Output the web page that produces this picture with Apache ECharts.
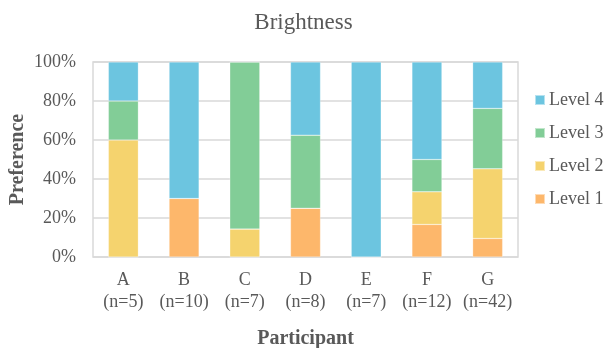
<!DOCTYPE html>
<html>
<head>
<meta charset="utf-8">
<script src="https://cdn.jsdelivr.net/npm/echarts@6/dist/echarts.min.js"></script>
<style>
  html, body { margin: 0; padding: 0; background: #fff; }
  #chart { width: 607px; height: 348px; }
</style>
</head>
<body>
<div id="chart"></div>
<script>
// Participants and their sample sizes
const participants = ['A', 'B', 'C', 'D', 'E', 'F', 'G'];
const sampleSizes = [5, 10, 7, 8, 7, 12, 42];

// Share of each brightness level per participant (%)
const level1 = [0, 30, 0, 25, 0, 16.7, 9.5];
const level2 = [60, 0, 14.3, 0, 0, 16.7, 35.7];
const level3 = [20, 0, 85.7, 37.5, 0, 16.6, 31.0];
const level4 = [20, 70, 0, 37.5, 100, 50, 23.8];

const yTicks = [0, 20, 40, 60, 80, 100];

const FONT = '"Liberation Serif", "Times New Roman", serif';
const TEXT = '#595959';
const GRID = '#d9d9d9';

const colors = {
  'Level 1': '#fdb76b',
  'Level 2': '#f5d36e',
  'Level 3': '#82cd97',
  'Level 4': '#6cc5e0'
};

const seriesData = [
  ['Level 1', level1],
  ['Level 2', level2],
  ['Level 3', level3],
  ['Level 4', level4]
];

const chart = echarts.init(document.getElementById('chart'), null, { renderer: 'canvas' });

chart.setOption({
  animation: false,
  textStyle: { fontFamily: FONT, color: TEXT },
  title: {
    text: 'Brightness',
    left: 'center',
    top: 6,
    textStyle: { fontFamily: FONT, fontSize: 23, fontWeight: 'normal', color: TEXT }
  },
  legend: {
    orient: 'vertical',
    left: 534,
    top: 91,
    padding: 0,
    itemWidth: 10,
    itemHeight: 10,
    itemGap: 15,
    icon: 'rect',
    data: ['Level 4', 'Level 3', 'Level 2', 'Level 1'],
    textStyle: { fontFamily: FONT, fontSize: 18, color: TEXT, padding: [0, 0, 0, -1] }
  },
  grid: {
    left: 93,
    right: 89,
    top: 62,
    bottom: 91,
    containLabel: false,
    outerBoundsMode: 'none',
    show: true,
    borderColor: GRID,
    borderWidth: 1.5
  },
  xAxis: {
    type: 'category',
    data: participants,
    name: 'Participant',
    nameLocation: 'middle',
    nameGap: 72,
    nameMoveOverlap: false,
    nameTextStyle: { fontFamily: FONT, fontSize: 20, fontWeight: 'bold', color: TEXT },
    axisLine: { show: false },
    axisTick: { show: false },
    axisLabel: {
      interval: 0,
      hideOverlap: false,
      margin: 12,
      fontFamily: FONT,
      fontSize: 18,
      color: TEXT,
      lineHeight: 22,
      formatter: (v, i) => v + '\n(n=' + sampleSizes[i] + ')'
    }
  },
  yAxis: {
    type: 'value',
    min: yTicks[0],
    max: yTicks[yTicks.length - 1],
    interval: 20,
    name: 'Preference',
    nameLocation: 'middle',
    nameGap: 65,
    nameMoveOverlap: false,
    nameTextStyle: { fontFamily: FONT, fontSize: 20, fontWeight: 'bold', color: TEXT },
    axisLine: { show: false },
    axisTick: { show: false },
    axisLabel: {
      margin: 17,
      fontFamily: FONT,
      fontSize: 18,
      color: TEXT,
      formatter: v => v + '%'
    },
    splitLine: { lineStyle: { color: GRID, width: 1.5 } }
  },
  series: seriesData.map(([name, values]) => ({
    name: name,
    type: 'bar',
    stack: 'total',
    barWidth: 30,
    data: values,
    itemStyle: { color: colors[name], borderColor: 'rgba(255,255,255,0.5)', borderWidth: 0.5 }
  }))
});
</script>
</body>
</html>
